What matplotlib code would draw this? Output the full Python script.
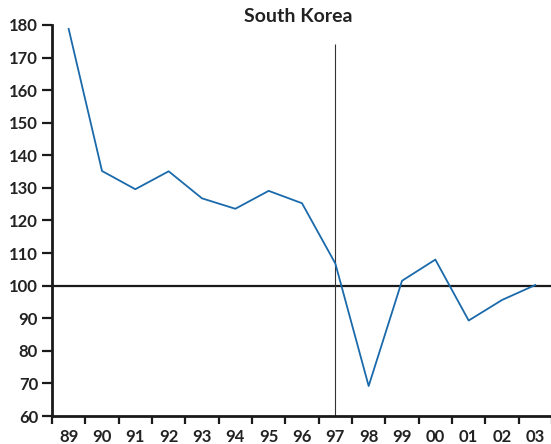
import numpy as np
import matplotlib
matplotlib.use("Agg")
import matplotlib.pyplot as plt

plt.rcParams["font.family"] = ["Lato", "DejaVu Sans"]

years = ["89", "90", "91", "92", "93", "94", "95", "96", "97", "98", "99", "00", "01", "02", "03"]
values = [178.8, 135.2, 129.6, 135.1, 126.8, 123.6, 129.1, 125.3, 106.8, 69.2, 101.5, 108.0, 89.3, 95.6, 100.2]
crisis_year = "97"
baseline = 100

fig = plt.figure(figsize=(5.51, 4.44), dpi=100)
ax = fig.add_axes([52 / 551, 28 / 444, 500 / 551, 391 / 444])

x = np.arange(len(years))
ax.plot(x, values, color="#1a6aab", lw=1.3, zorder=3)
ax.axhline(baseline, color="#1a1a1a", lw=1.6, zorder=2)
xc = years.index(crisis_year)
ax.vlines(xc, 60, 174.2, color="#333333", lw=0.8, zorder=2)

ax.set_xlim(-0.5, len(years) - 0.5)
ax.set_ylim(60, 180)
ax.set_yticks(np.arange(60, 181, 10))
ax.set_xticks(x)
ax.set_xticklabels(years)
ax.set_xticks(np.arange(len(years) + 1) - 0.5, minor=True)
ax.tick_params(axis="x", which="major", length=0, pad=9)
ax.tick_params(axis="x", which="minor", length=6, width=1.6, color="#1a1a1a")
ax.tick_params(axis="y", length=7, width=1.6, color="#1a1a1a", pad=3)
for lab in ax.get_xticklabels() + ax.get_yticklabels():
    lab.set_fontsize(12)
    lab.set_fontweight("bold")
    lab.set_color("#222222")

for s in ["top", "right"]:
    ax.spines[s].set_visible(False)
for s in ["left", "bottom"]:
    ax.spines[s].set_linewidth(2)
    ax.spines[s].set_color("#1a1a1a")

fig.text(298 / 551, 1 - 17 / 444, "South Korea", ha="center", va="center",
         fontsize=14, fontweight="bold", color="#222222")

fig.savefig("out.png", dpi=100)
